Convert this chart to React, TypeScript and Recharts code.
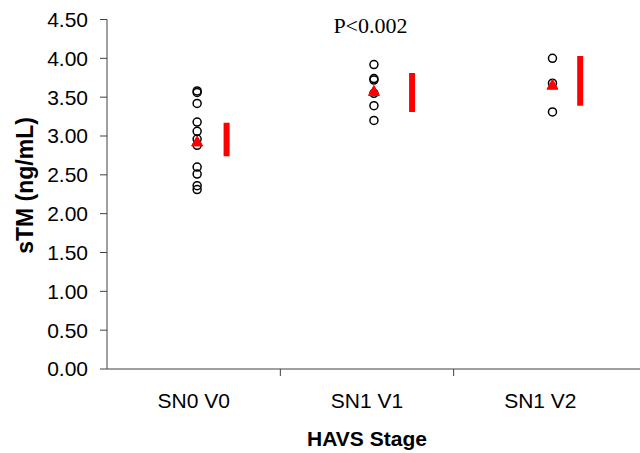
import React from 'react';
import { ScatterChart, Scatter, XAxis, YAxis, Label, ReferenceDot } from 'recharts';

const categories = ['SN0 V0', 'SN1 V1', 'SN1 V2'];
const categoryCenters = [0.5, 1.5, 2.5];
const categoryBounds = [1, 2];
const xMax = 3.075;
const yTicks = [0, 0.5, 1, 1.5, 2, 2.5, 3, 3.5, 4, 4.5];

const pointX = [0.52, 1.54, 2.57];
const barX = [0.69, 1.76, 2.73];

const sn0v0 = [3.58, 3.56, 3.42, 3.18, 3.06, 2.96, 2.88, 2.6, 2.51, 2.36, 2.31];
const sn1v1 = [3.92, 3.74, 3.72, 3.55, 3.39, 3.2];
const sn1v2 = [4.0, 3.68, 3.31];
const groups = [sn0v0, sn1v1, sn1v2];

const means = [2.93, 3.58, 3.66];
const barLow = [2.74, 3.31, 3.39];
const barHigh = [3.17, 3.81, 4.03];

const pText = 'P<0.002';
const pTextX = 1.52;
const pTextY = 4.43;

const axisColor = '#404040';
const sans = 'Liberation Sans, Arial, sans-serif';
const serif = 'Liberation Serif, Times New Roman, serif';

const pointData = groups.flatMap((g, i) => g.map((v) => ({ x: pointX[i], y: v })));
const meanData = means.map((m, i) => ({ x: pointX[i], y: m }));
const barData = barLow.map((lo, i) => [
  { x: barX[i], y: lo },
  { x: barX[i], y: barHigh[i] },
]);

const xTicks = [...categoryCenters, ...categoryBounds].sort((a, b) => a - b);

const XTick = (props: any) => {
  const { x, y, payload } = props;
  const v = payload.value;
  const ci = categoryCenters.indexOf(v);
  if (ci >= 0) {
    return (
      <text x={x} y={y + 39} textAnchor="middle" fontFamily={sans} fontSize={21} fill="#000">
        {categories[ci]}
      </text>
    );
  }
  return <line x1={x} x2={x} y1={y} y2={y + 7} stroke={axisColor} strokeWidth={1} />;
};

const OpenCircle = (props: any) => {
  const { cx, cy } = props;
  return <circle cx={cx} cy={cy} r={4} fill="none" stroke="#000" strokeWidth={1.5} />;
};

const Triangle = (props: any) => {
  const { cx, cy } = props;
  return (
    <polygon
      points={`${cx},${cy - 5.5} ${cx - 5.5},${cy + 4.5} ${cx + 5.5},${cy + 4.5}`}
      fill="#ff0000"
      stroke="#ff0000"
      strokeWidth={1}
      strokeLinejoin="round"
    />
  );
};

const Nothing = () => <g />;

export default function App() {
  return (
    <div style={{ position: 'absolute', left: 0, top: 0, background: '#fff' }}>
      <ScatterChart width={640} height={453} margin={{ top: 19.5, right: 0, bottom: 0, left: 0 }}>
        <XAxis
          type="number"
          dataKey="x"
          domain={[0, xMax]}
          ticks={xTicks}
          interval={0}
          tickLine={false}
          tickSize={0}
          tickMargin={0}
          tick={<XTick />}
          axisLine={{ stroke: axisColor, strokeWidth: 1 }}
          height={84}
          allowDataOverflow
        >
          <Label
            content={(p: any) => {
              const vb = p.viewBox;
              return (
                <text
                  x={vb.x + (vb.width * 1.5) / xMax}
                  y={vb.y + 77}
                  textAnchor="middle"
                  fontFamily={sans}
                  fontWeight="bold"
                  fontSize={21}
                  fill="#000"
                >
                  HAVS Stage
                </text>
              );
            }}
          />
        </XAxis>
        <YAxis
          type="number"
          dataKey="y"
          domain={[0, 4.5]}
          ticks={yTicks}
          interval={0}
          width={107}
          tickSize={7}
          tickMargin={12}
          tickFormatter={(v: number) => v.toFixed(2)}
          tick={{ fontFamily: sans, fontSize: 21, fill: '#000' }}
          tickLine={{ stroke: axisColor }}
          axisLine={{ stroke: axisColor, strokeWidth: 1 }}
          allowDataOverflow
        >
          <Label
            content={(p: any) => {
              const vb = p.viewBox;
              const cx = vb.x + 33;
              const cy = vb.y + 166;
              return (
                <text
                  x={cx}
                  y={cy}
                  transform={`rotate(-90, ${cx}, ${cy})`}
                  textAnchor="middle"
                  fontFamily={sans}
                  fontWeight="bold"
                  fontSize={23}
                  fill="#000"
                >
                  sTM (ng/mL)
                </text>
              );
            }}
          />
        </YAxis>
        {barData.map((d, i) => (
          <Scatter
            key={'bar' + i}
            data={d}
            line={{ stroke: '#ff0000', strokeWidth: 6 }}
            lineType="joint"
            shape={<Nothing />}
            isAnimationActive={false}
          />
        ))}
        <Scatter data={pointData} shape={<OpenCircle />} isAnimationActive={false} />
        <Scatter data={meanData} shape={<Triangle />} isAnimationActive={false} />
        <ReferenceDot
          x={pTextX}
          y={pTextY}
          r={0}
          fill="none"
          stroke="none"
          label={{ value: pText, position: 'center', fontFamily: serif, fontSize: 22, fill: '#000' }}
        />
      </ScatterChart>
    </div>
  );
}
